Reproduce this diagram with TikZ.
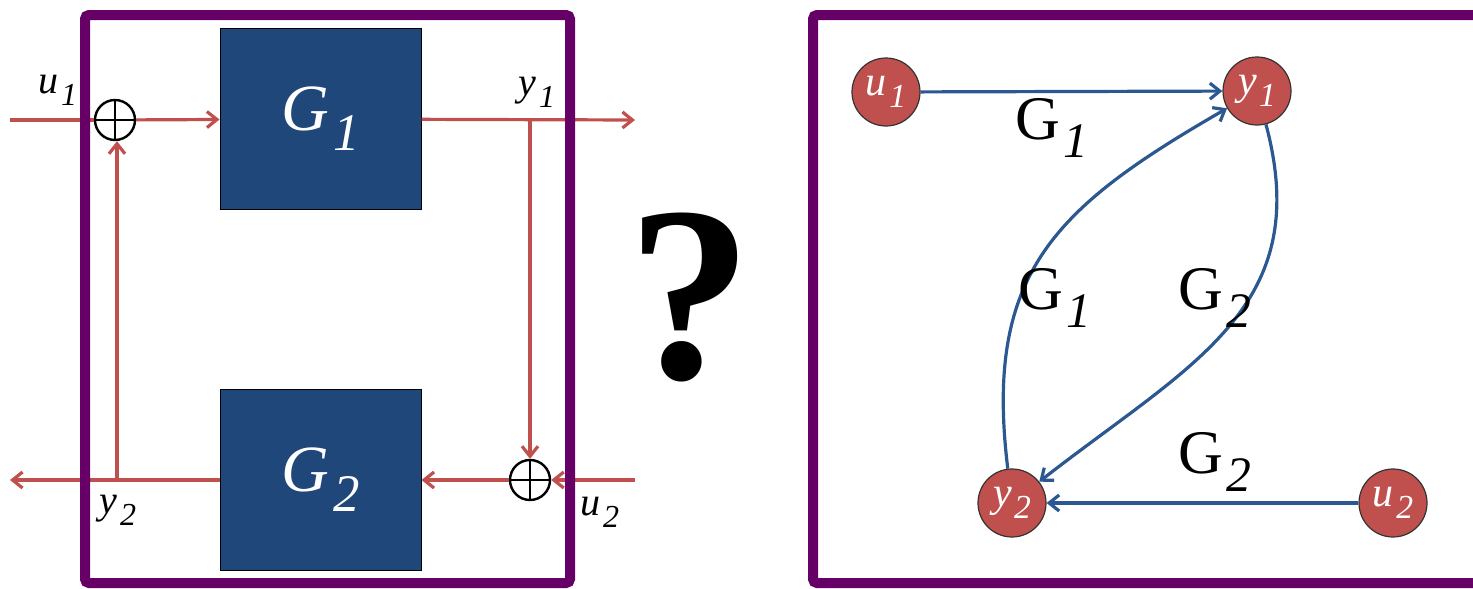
\documentclass[tikz,border=0pt]{standalone}
\usepackage{fontspec}
\setmainfont{Liberation Serif}[ItalicFont={Liberation Serif Italic},BoldFont={Liberation Serif Bold}]
\usetikzlibrary{arrows.meta}
\definecolor{frame}{RGB}{102,0,102}
\definecolor{blk}{RGB}{31,71,122}
\definecolor{sig}{RGB}{192,80,77}
\definecolor{edg}{RGB}{44,88,146}
\newcommand{\vsub}[2]{\textit{#1\kern.06em\raisebox{-.3em}{\scalebox{.8}{#2}}}}
\newcommand{\gsub}[2]{#1\kern.06em\raisebox{-.3em}{\scalebox{.8}{\textit{#2}}}}
\tikzset{
  block/.style={draw=black,line width=1,fill=blk,minimum width=201,minimum height=181,text=white,font=\fontsize{66}{66}\selectfont,inner sep=0},
  sumnode/.style={circle,draw=black,line width=2.4,minimum size=40,inner sep=0,
    path picture={\draw[line width=2.4](path picture bounding box.north)--(path picture bounding box.south)(path picture bounding box.west)--(path picture bounding box.east);}},
  sigline/.style={draw=sig,line width=3.2,-{Straight Barb[length=10,width=16,line width=3.2]}},
  vtx/.style={circle,draw=black!80,line width=1.2,fill=sig,minimum size=68,inner sep=0,text=white,font=\fontsize{42}{42}\selectfont},
  edge/.style={draw=edg,line width=3.2,-{Straight Barb[length=10,width=16,line width=3.2]}},
  lbl/.style={font=\fontsize{40}{40}\selectfont,inner sep=0},
  glbl/.style={font=\fontsize{62}{62}\selectfont,inner sep=0}
}
\begin{document}
\begin{tikzpicture}[x=1pt,y=-1pt]
\useasboundingbox(0,0)rectangle(1473,589);
\clip(0,0)rectangle(1473,589);
% left: block diagram
\node[block](g1)at(320.5,119){\vsub{G}{1}};
\node[block](g2)at(320.5,480){\vsub{G}{2}};
\node[sumnode](s1)at(115,120){};\node[sumnode](s2)at(530,480){};
\coordinate(u1in)at(10,120);\coordinate(y1out)at(635,120);\coordinate(b1)at(530,120);
\coordinate(u2in)at(635,480);\coordinate(y2out)at(10,480);\coordinate(b2)at(117,480);
\draw[draw=sig,line width=3.2](u1in)--(s1);\draw[sigline](s1)--(g1);
\draw[sigline](g1)--(y1out);\draw[sigline](b1)--(s2);
\draw[sigline](u2in)--(s2);\draw[sigline](s2)--(g2);
\draw[sigline](g2)--(y2out);\draw[sigline](b2)--(b2|-s1.south);
\node[lbl](lu1)at(58,90){\vsub{u}{1}};\node[lbl](ly1)at(537,92){\vsub{y}{1}};
\node[lbl](ly2)at(118,510){\vsub{y}{2}};\node[lbl](lu2)at(600,512){\vsub{u}{2}};
\draw[frame,line width=10,rounded corners=4](85,15)rectangle(570,583);
% middle
\node[font=\fontsize{250}{250}\selectfont\bfseries](q)at(690,298){?};
% right: signal graph
\draw[frame,line width=10,rounded corners=4](813,15)rectangle(1500,583);
\node[vtx](u1)at(886,92){\vsub{u}{1}};\node[vtx](y1)at(1257,91){\vsub{y}{1}};
\node[vtx](y2)at(1012,503){\vsub{y}{2}};\node[vtx](u2)at(1393,503){\vsub{u}{2}};
\draw[edge](u1)--(y1);\draw[edge](u2)--(y2);
\draw[edge](y2)to[out=97,in=-150,looseness=1.2](y1);
\draw[edge](y1)to[out=-75,in=38,looseness=1.15](y2);
\node[glbl](e1)at(1052,128){\gsub{G}{1}};\node[glbl](e2)at(1055,298){\gsub{G}{1}};
\node[glbl](e3)at(1215,298){\gsub{G}{2}};\node[glbl](e4)at(1215,462){\gsub{G}{2}};
\end{tikzpicture}
\end{document}
